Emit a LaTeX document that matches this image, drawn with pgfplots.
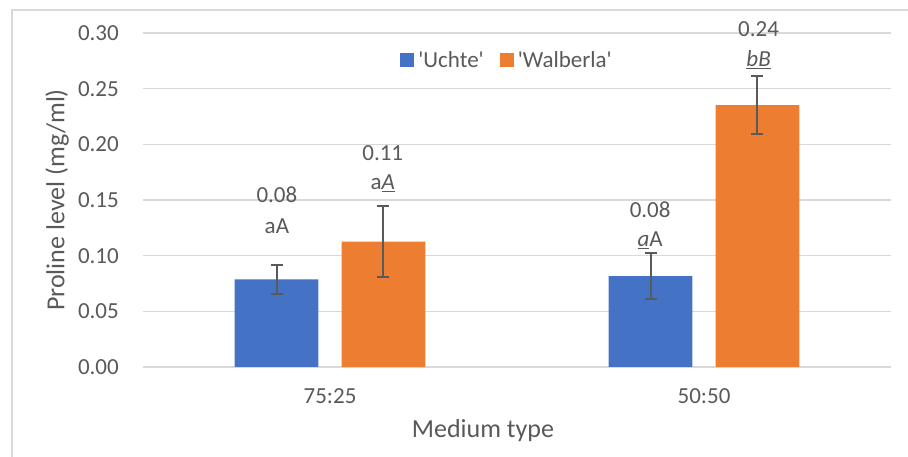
\documentclass[border=0pt]{standalone}
\usepackage{fontspec}
\setmainfont{Carlito}
\usepackage{pgfplots}
\pgfplotsset{compat=1.18}
\definecolor{ublue}{HTML}{4472C4}
\definecolor{worange}{HTML}{ED7D31}
\definecolor{txt}{HTML}{595959}
\definecolor{gridc}{HTML}{D9D9D9}
\definecolor{errc}{HTML}{5A5A5A}
\newcommand\fs{\fontsize{23bp}{27bp}\selectfont}
\newcommand\ft{\fontsize{26bp}{30bp}\selectfont}
\begin{document}
\begin{tikzpicture}[x=1bp,y=1bp]
\path[use as bounding box] (0,0) rectangle (908,457);
\draw[gridc, line width=1.5bp] (12,0) -- (12,447) -- (908,447);
\begin{axis}[
  at={(143bp,90bp)}, anchor=south west,
  scale only axis, width=748bp, height=334bp,
  xmin=-0.5, xmax=1.5, ymin=0, ymax=0.3,
  clip=false,
  axis line style={draw=none},
  tick style={draw=none},
  major tick length=0pt,
  ytick={0,0.05,0.1,0.15,0.2,0.25,0.3},
  scaled y ticks=false,
  yticklabel style={/pgf/number format/fixed, /pgf/number format/fixed zerofill,
    /pgf/number format/precision=2, inner xsep=0pt, xshift=-24bp},
  /pgf/number format/assume math mode=true,
  ymajorgrids, grid style={gridc, line width=1.5bp},
  xtick={0,1}, xticklabels={75:25,50:50},
  tick label style={font=\fs, text=txt},
  xticklabel style={inner ysep=0pt, yshift=-21.7bp},
  xlabel={Medium type},
  xlabel style={at={(axis description cs:0.4545,-0.1916)}, anchor=center, font=\ft, text=txt},
  ylabel={Proline level (mg/ml)},
  ylabel style={at={(axis description cs:-0.115,0.5)}, anchor=center, font=\ft, text=txt},
  legend columns=2,
  legend style={at={(axis description cs:0.4880,0.919)}, anchor=center, draw=none, fill=none,
    font=\fs, text=txt, nodes={inner xsep=4bp},
    /tikz/every even column/.append style={column sep=12bp}},
]
\addplot[ybar, bar width=0.2235, bar shift=0pt, fill=ublue, draw=none,
  legend image code/.code={\fill[ublue] (0bp,-7bp) rectangle (14bp,7bp);},
  error bars/.cd, y dir=both, y explicit,
  error bar style={errc, line width=2bp},
  error mark options={errc, line width=2bp, mark size=6bp, rotate=90}]
  table[x=x, y=y, y error=e] {
x y e
-0.143 0.0788 0.0131
0.857 0.0817 0.0205
};
\addlegendentry{\textquotesingle Uchte\textquotesingle}
\addplot[ybar, bar width=0.2235, bar shift=0pt, fill=worange, draw=none,
  legend image code/.code={\fill[worange] (0bp,-7bp) rectangle (14bp,7bp);},
  error bars/.cd, y dir=both, y explicit,
  error bar style={errc, line width=2bp},
  error mark options={errc, line width=2bp, mark size=6bp, rotate=90}]
  table[x=x, y=y, y error=e] {
x y e
0.143 0.1126 0.032
1.143 0.2353 0.026
};
\addlegendentry{\textquotesingle Walberla\textquotesingle}
\node[anchor=base, font=\fs, text=txt] at (axis cs:-0.142,0.1473) {0.08};
\node[anchor=base, font=\fs, text=txt] at (axis cs:-0.142,0.1195) {aA};
\node[anchor=base, font=\fs, text=txt] at (axis cs:0.141,0.1859) {0.11};
\node[anchor=base, font=\fs, text=txt] at (axis cs:0.141,0.1590) {a\underline{\textit{A}}};
\node[anchor=base, font=\fs, text=txt] at (axis cs:0.856,0.1347) {0.08};
\node[anchor=base, font=\fs, text=txt] at (axis cs:0.856,0.1078) {\underline{\textit{a}}A};
\node[anchor=base, font=\fs, text=txt] at (axis cs:1.146,0.2964) {0.24};
\node[anchor=base, font=\fs, text=txt] at (axis cs:1.146,0.2695) {\underline{\textit{bB}}};
\end{axis}
\end{tikzpicture}
\end{document}
